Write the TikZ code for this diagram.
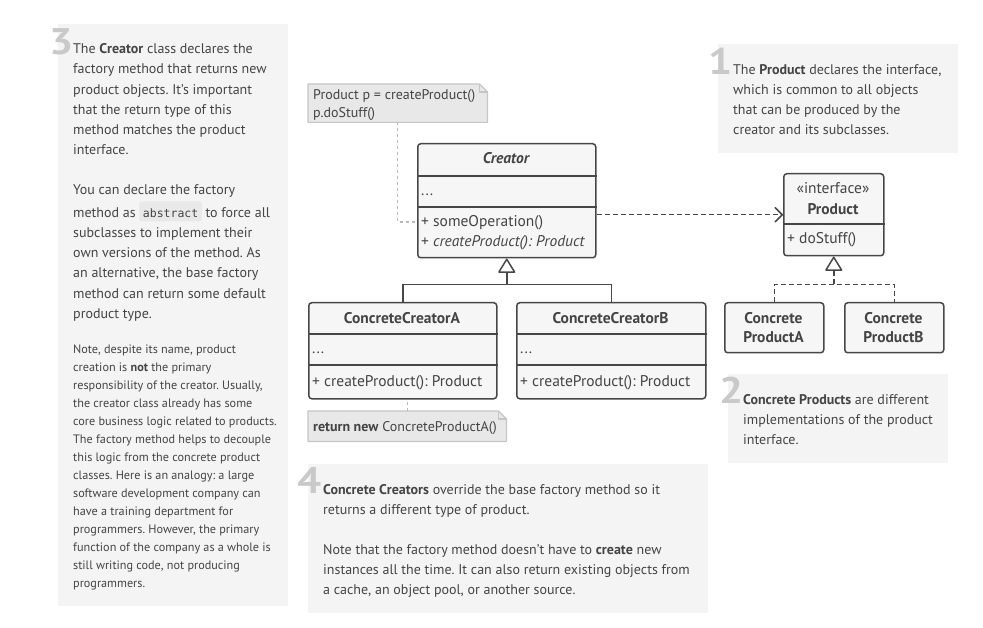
\documentclass[tikz,border=0pt]{standalone}
\usepackage{fontspec}
\usepackage{graphicx}
\setmainfont{PT Sans}
\newfontfamily\codefont{DejaVu Sans Mono}
\usetikzlibrary{arrows.meta,calc}
\frenchspacing

\definecolor{panelbg}{HTML}{F4F4F4}
\definecolor{numgray}{HTML}{C9C9C9}
\definecolor{txt}{HTML}{444444}
\definecolor{boxfill}{HTML}{F6F6F6}
\definecolor{boxdraw}{HTML}{474747}
\definecolor{notefill}{HTML}{E8E8E8}
\definecolor{notedraw}{HTML}{C6C6C6}
\definecolor{linkgray}{HTML}{B8B8B8}
\definecolor{codebg}{HTML}{E9E9E9}

% inline code chip
\newcommand\codechip[1]{\tikz[x=1pt,y=1pt,baseline=(chip.base)]\node[fill=codebg,rounded corners=2pt,
  inner xsep=3.5pt,inner ysep=4pt,text height=12pt,text depth=0pt,text=txt] (chip) {\codefont\fontsize{11.5}{14}\selectfont #1};}
% big step digit
\newcommand\stepdigit[1]{\scalebox{1.15}[1]{#1}}

\tikzset{
  panel/.style={fill=panelbg,draw=none},
  num/.style={font=\fontsize{37}{37}\selectfont\bfseries,text=numgray,inner sep=0pt,anchor=base west},
  ptext/.style={font=\fontsize{14}{20.2}\selectfont,text=txt,align=left,inner sep=0pt,anchor=north west},
  stext/.style={font=\fontsize{12.2}{18}\selectfont,text=txt,align=left,inner sep=0pt,anchor=north west},
  cls/.style={draw=boxdraw,fill=boxfill,line width=1.5pt,rounded corners=3pt,inner sep=0pt,anchor=north west},
  divider/.style={draw=boxdraw,line width=1.5pt},
  uml/.style={font=\fontsize{15.5}{19}\selectfont,text=txt,inner sep=0pt},
  notebox/.style={inner sep=0pt,anchor=north west,draw=none},
  noteline/.style={draw=notedraw,fill=notefill,line width=1.2pt,line join=round},
  notetext/.style={font=\fontsize{14}{18}\selectfont,text=txt,inner sep=0pt,anchor=base west},
  dotlink/.style={draw=linkgray,line width=1.2pt,dash pattern=on 3pt off 3pt},
  solidlink/.style={draw=boxdraw,line width=1.5pt},
  dashlink/.style={draw=boxdraw,line width=1.5pt,dash pattern=on 5pt off 3pt},
  inhtip/.style={-{Triangle[open,length=15pt,width=18pt,round]}},
  deptip/.style={-{Straight Barb[length=7pt,width=14pt,round]}}
}

\begin{document}
\begin{tikzpicture}[x=1pt,y=-1pt]
\useasboundingbox (0,0) rectangle (983,628);
\fill[white] (0,0) rectangle (983,628);

% ---------- explanation panels ----------
\fill[panel] (58,24) rectangle (288,606);
\fill[panel] (718,44) rectangle (958,153);
\fill[panel] (728,374) rectangle (948,463);
\fill[panel] (308,464) rectangle (708,613);

\node[num] (num3) at (49,55) {\stepdigit{3}};
\node[num] (num1) at (708,75) {\stepdigit{1}};
\node[num] (num2) at (719,403) {\stepdigit{2}};
\node[num] (num4) at (297,493) {\stepdigit{4}};

\node[ptext] (p3a) at (73,39.4) {\strut The \textbf{Creator} class declares the\\
factory method that returns new\\
product objects. It’s important\\
that the return type of this\\
method matches the product\\
interface.};

\node[ptext] (p3b) at (73,179.9) {\strut You can declare the factory\\
method as \codechip{abstract} to force all\\
subclasses to implement their\\
own versions of the method. As\\
an alternative, the base factory\\
method can return some default\\
product type.};

\node[stext] (p3c) at (73,340.6) {\strut Note, despite its name, product\\
creation is \textbf{not} the primary\\
responsibility of the creator. Usually,\\
the creator class already has some\\
core business logic related to products.\\
The factory method helps to decouple\\
this logic from the concrete product\\
classes. Here is an analogy: a large\\
software development company can\\
have a training department for\\
programmers. However, the primary\\
function of the company as a whole is\\
still writing code, not producing\\
programmers.};

\node[ptext] (p1) at (733,59.9) {\strut The \textbf{Product} declares the interface,\\
which is common to all objects\\
that can be produced by the\\
creator and its subclasses.};

\node[ptext] (p2) at (743,389.9) {\strut\textbf{Concrete Products} are different\\
implementations of the product\\
interface.};

\node[ptext] (p4a) at (323,479.9) {\strut\textbf{Concrete Creators} override the base factory method so it\\
returns a different type of product.};

\node[ptext] (p4b) at (323,539.9) {\strut Note that the factory method doesn’t have to \textbf{create} new\\
instances all the time. It can also return existing objects from\\
a cache, an object pool, or another source.};

% ---------- Creator ----------
\node[cls,minimum width=178pt,minimum height=114pt] (creator) at (417,143) {};
\draw[divider] ($(creator.north west)+(0,33)$) -- ($(creator.north east)+(0,33)$);
\draw[divider] ($(creator.north west)+(0,64)$) -- ($(creator.north east)+(0,64)$);
\node[uml,anchor=base] (creatorT) at (506,164) {\bfseries\itshape Creator};
\node[uml,anchor=base west] (creatorF) at (421,196) {...};
\node[uml,anchor=base west] (creatorM1) at (421,226.5) {+ someOperation()};
\node[uml,anchor=base west] (creatorM2) at (421,247) {+ \itshape createProduct(): Product};

% ---------- ConcreteCreatorA / B ----------
\node[cls,minimum width=188pt,minimum height=96pt] (ccA) at (308,302) {};
\draw[divider] ($(ccA.north west)+(0,32)$) -- ($(ccA.north east)+(0,32)$);
\draw[divider] ($(ccA.north west)+(0,63)$) -- ($(ccA.north east)+(0,63)$);
\node[uml,anchor=base] (ccAT) at (402,323.5) {\bfseries ConcreteCreatorA};
\node[uml,anchor=base west] (ccAF) at (312,354) {...};
\node[uml,anchor=base west] (ccAM) at (312,386) {+ createProduct(): Product};

\node[cls,minimum width=189pt,minimum height=96pt] (ccB) at (516,302) {};
\draw[divider] ($(ccB.north west)+(0,32)$) -- ($(ccB.north east)+(0,32)$);
\draw[divider] ($(ccB.north west)+(0,63)$) -- ($(ccB.north east)+(0,63)$);
\node[uml,anchor=base] (ccBT) at (610.5,323.5) {\bfseries ConcreteCreatorB};
\node[uml,anchor=base west] (ccBF) at (520,354) {...};
\node[uml,anchor=base west] (ccBM) at (520,386) {+ createProduct(): Product};

% ---------- Product ----------
\node[cls,minimum width=100pt,minimum height=82pt] (product) at (783,173) {};
\draw[divider] ($(product.north west)+(0,51)$) -- ($(product.north east)+(0,51)$);
\node[uml,anchor=base] (prodS) at (833,194) {«interface»};
\node[uml,anchor=base] (prodT) at (833,214.5) {\bfseries Product};
\node[uml,anchor=base west] (prodM) at (787,244) {+ doStuff()};

% two-line titles: the base anchor sits on the last line
\node[cls,minimum width=99pt,minimum height=50pt] (cpA) at (724,302) {};
\node[uml,anchor=base,align=center] (cpAT) at (773.5,342.5) {\bfseries Concrete\\\bfseries ProductA};
\node[cls,minimum width=99pt,minimum height=50pt] (cpB) at (844,302) {};
\node[uml,anchor=base,align=center] (cpBT) at (893.5,342.5) {\bfseries Concrete\\\bfseries ProductB};

% ---------- notes ----------
\node[notebox,minimum width=179pt,minimum height=38pt] (note1) at (308,84) {};
\draw[noteline] (note1.north west) -- ($(note1.north east)+(-8,0)$) -- ($(note1.north east)+(0,8)$)
  -- (note1.south east) -- (note1.south west) -- cycle;
\draw[noteline,fill=none] ($(note1.north east)+(-8,0)$) -- ($(note1.north east)+(-8,8)$) -- ($(note1.north east)+(0,8)$);
\node[notetext] (note1a) at (313,99.5) {Product p = createProduct()};
\node[notetext] (note1b) at (313,117.5) {p.doStuff()};

\node[notebox,minimum width=198pt,minimum height=30pt] (note2) at (308,411) {};
\draw[noteline] (note2.north west) -- ($(note2.north east)+(-8,0)$) -- ($(note2.north east)+(0,8)$)
  -- (note2.south east) -- (note2.south west) -- cycle;
\draw[noteline,fill=none] ($(note2.north east)+(-8,0)$) -- ($(note2.north east)+(-8,8)$) -- ($(note2.north east)+(0,8)$);
\node[notetext] (note2a) at (313,431) {\textbf{return new} ConcreteProductA()};

% ---------- connectors ----------
\coordinate (noteIn) at ($(creator.north west)+(0,79)$);
\draw[dotlink] (note1.south) |- (noteIn);
\draw[dotlink] (note2.north) -- (note2.north |- ccA.south);

\draw[dashlink,deptip] (product.west -| creator.east) -- (product.west);

\coordinate (cJoin) at ($(creator.south)+(0,26)$);
\draw[solidlink] (ccA.north) |- (cJoin) -| (ccB.north);
\draw[solidlink,inhtip] (cJoin) -- (creator.south);

\coordinate (pJoin) at ($(product.south)+(0,28)$);
\draw[dashlink] (cpA.north) |- (pJoin) -| (cpB.north);
\draw[dashlink,inhtip] (pJoin) -- (product.south);

\end{tikzpicture}
\end{document}
